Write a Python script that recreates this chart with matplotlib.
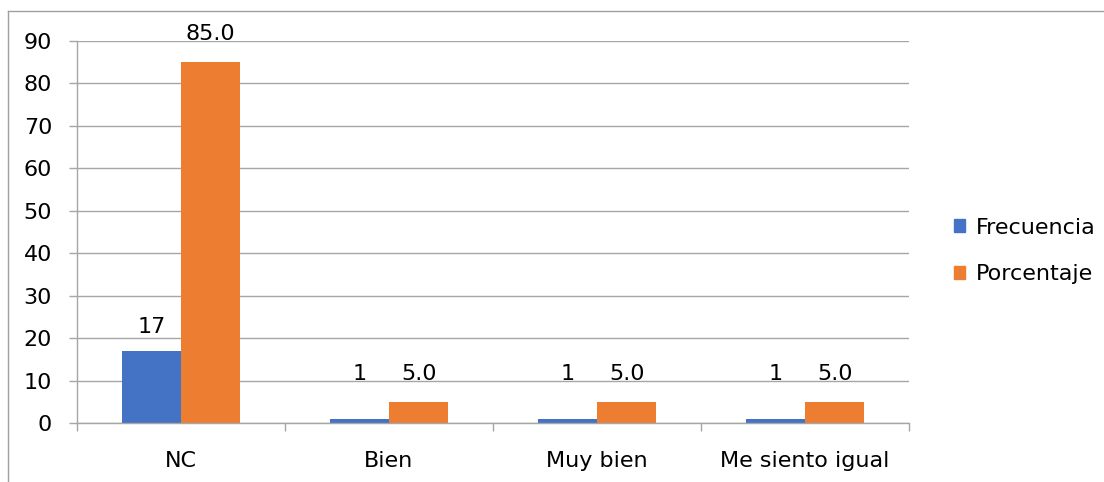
import matplotlib.pyplot as plt
import numpy as np
from matplotlib.lines import Line2D
from matplotlib.patches import Patch

# data
categories = ["NC", "Bien", "Muy bien", "Me siento igual"]
frecuencia = [17, 1, 1, 1]
porcentaje = [85.0, 5.0, 5.0, 5.0]
yticks = [0, 10, 20, 30, 40, 50, 60, 70, 80, 90]

BLUE = "#4472C4"
ORANGE = "#ED7D31"
GRID = "#A6A6A6"
FS = 16

plt.rcParams["font.family"] = ["DejaVu Sans"]

fig = plt.figure(figsize=(11.04, 4.82), dpi=100)
ax = fig.add_axes([77 / 1104, 1 - 423 / 482, 832 / 1104, 382 / 482])

x = np.arange(len(categories))
w = 0.286
b1 = ax.bar(x - w / 2, frecuencia, w, color=BLUE, label="Frecuencia")
b2 = ax.bar(x + w / 2, porcentaje, w, color=ORANGE, label="Porcentaje")

# small labels get lifted so they sit level with the neighbouring label
blue_off = [10, 25, 25, 25]
for rect, v, off in zip(b1, frecuencia, blue_off):
    ax.annotate(f"{v}", (rect.get_x() + rect.get_width() / 2, v),
                xytext=(0, off), textcoords="offset points",
                ha="center", va="bottom", fontsize=FS)
for rect, v in zip(b2, porcentaje):
    ax.annotate(f"{v:.1f}", (rect.get_x() + rect.get_width() / 2, v),
                xytext=(0, 13), textcoords="offset points",
                ha="center", va="bottom", fontsize=FS)

ax.set_xlim(-0.5, len(categories) - 0.5)
ax.set_ylim(0, 90)
ax.set_yticks(yticks)
ax.yaxis.grid(True, color=GRID, linewidth=1)
ax.set_axisbelow(True)

# category boundary ticks on x axis
ax.set_xticks(np.arange(len(categories) + 1) - 0.5)
ax.set_xticklabels([])
ax.set_xticks(x, minor=True)
ax.set_xticklabels(categories, minor=True, fontsize=FS)
ax.tick_params(axis="x", which="minor", length=0, pad=20)
ax.tick_params(axis="x", which="major", length=6, color=GRID, width=1)
ax.tick_params(axis="y", length=6, color=GRID, width=1, labelsize=FS, pad=12)

for s in ["top", "right"]:
    ax.spines[s].set_visible(False)
for s in ["left", "bottom"]:
    ax.spines[s].set_color(GRID)
    ax.spines[s].set_linewidth(1)

handles = [Patch(color=BLUE), Patch(color=ORANGE)]
fig.legend(handles, ["Frecuencia", "Porcentaje"], loc="center left",
           bbox_to_anchor=(934 / 1104, 1 - 251 / 482), frameon=False,
           fontsize=FS, handlelength=0.5, handleheight=0.5,
           handletextpad=0.5, labelspacing=1.2)

# outer chart frame
fig.add_artist(Line2D([8 / 1104, 1], [1 - 11 / 482, 1 - 11 / 482],
                      transform=fig.transFigure, color="#A0A0A0", lw=1))
fig.add_artist(Line2D([8 / 1104, 8 / 1104], [0, 1 - 11 / 482],
                      transform=fig.transFigure, color="#A0A0A0", lw=1))

fig.savefig("out.png", dpi=100)
